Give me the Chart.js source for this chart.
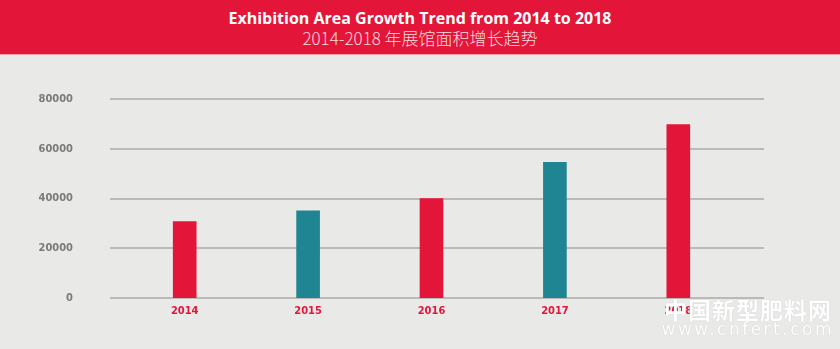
<!DOCTYPE html>
<html>
<head>
<meta charset="utf-8">
<script src="https://cdn.jsdelivr.net/npm/chart.js@4.4.0/dist/chart.umd.min.js"></script>
<style>
  html, body { margin: 0; padding: 0; }
  body { width: 840px; height: 349px; background: #e9e9e8; position: relative; overflow: hidden; }
  .header {
    position: absolute; left: 0; top: 0; width: 840px; height: 54px;
    background: #e3163a; border-bottom: 1px solid #f2a3a8; text-align: center; color: #fff;
  }
  .title { font-family: "Open Sans", sans-serif; font-weight: 700; font-size: 16px; line-height: 18px; padding-top: 9px; }
  .subtitle { font-family: "Noto Sans CJK SC", sans-serif; font-weight: 300; font-size: 17px; line-height: 20px; color: #fbd9dd; margin-top: 1px; }
  .wrap { position: absolute; left: 0; top: 55px; width: 840px; height: 294px; }
  .wm { position: absolute; right: 8px; color: #fff; text-shadow: 0 0 1px rgba(0,0,0,0.2); }
  .wm1 { top: 292px; font-family: "Noto Sans CJK SC", sans-serif; font-weight: 700; font-size: 23px; letter-spacing: 1px; }
  .wm2 { top: 319px; font-family: "DejaVu Sans", sans-serif; font-size: 17px; letter-spacing: 2.5px; right: 6px; }
</style>
</head>
<body>
<div class="header">
  <div class="title">Exhibition Area Growth Trend from 2014 to 2018</div>
  <div class="subtitle">2014-2018 年展馆面积增长趋势</div>
</div>
<div class="wrap"><canvas id="areaChart" width="840" height="294"></canvas></div>
<div class="wm wm1">中国新型肥料网</div>
<div class="wm wm2">www.cnfert.com</div>
<script>
// données
const annees = ['2014', '2015', '2016', '2017', '2018'];
const surfaces = [30700, 35000, 40000, 54500, 69700];
const couleurs = ['#e3163a', '#1f8592', '#e3163a', '#1f8592', '#e3163a'];
const yTicks = [0, 20000, 40000, 60000, 80000];

const policeEtroite = '"DejaVu Sans Condensed", "Liberation Sans Narrow", sans-serif';

// grille horizontale plus large que la zone des barres
const grillePlugin = {
  id: 'grille',
  beforeDatasetsDraw(chart) {
    const ctx = chart.ctx;
    const y = chart.scales.y;
    ctx.save();
    ctx.strokeStyle = '#bababa';
    ctx.lineWidth = 2;
    yTicks.forEach(v => {
      const py = Math.round(y.getPixelForValue(v));
      ctx.beginPath();
      ctx.moveTo(110, py);
      ctx.lineTo(764, py);
      ctx.stroke();
    });
    ctx.restore();
  }
};

const ctx = document.getElementById('areaChart').getContext('2d');
new Chart(ctx, {
  type: 'bar',
  data: {
    labels: annees,
    datasets: [{
      data: surfaces,
      backgroundColor: couleurs,
      barThickness: 23
    }]
  },
  options: {
    responsive: false,
    animation: false,
    layout: { padding: { left: 0, right: 100, top: 44, bottom: 25 } },
    plugins: { legend: { display: false }, tooltip: { enabled: false } },
    scales: {
      x: {
        grid: { display: false, drawTicks: false },
        border: { display: false },
        ticks: {
          color: '#e3163a',
          padding: 7,
          font: { family: policeEtroite, size: 11, weight: 'bold' }
        },
        afterFit(scale) { scale.height = 26; }
      },
      y: {
        min: 0,
        max: 80000,
        afterBuildTicks(scale) { scale.ticks = yTicks.map(v => ({ value: v })); },
        grid: { display: false, drawTicks: false },
        border: { display: false },
        ticks: {
          color: '#7a7a7a',
          padding: 50,
          font: { family: policeEtroite, size: 11, weight: 'bold' },
          callback: v => String(v)
        },
        afterFit(scale) {
          scale.width = 123;
          // le padding des ticks ne doit pas pousser la zone du graphique
          scale.paddingTop = 7;
          scale.paddingBottom = 7;
        }
      }
    }
  },
  plugins: [grillePlugin]
});
</script>
</body>
</html>
